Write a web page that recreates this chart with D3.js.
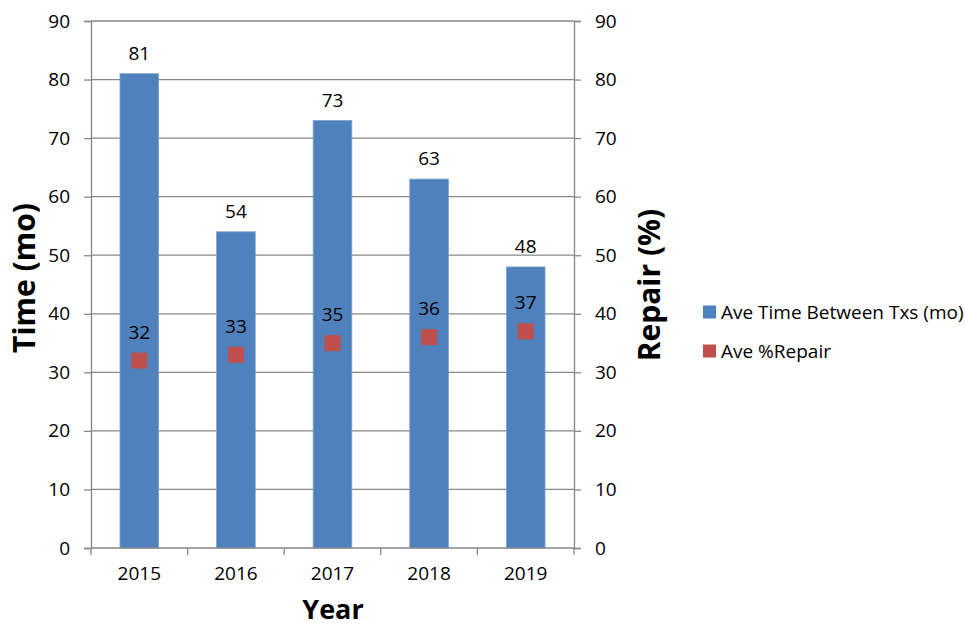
<!DOCTYPE html>
<html>
<head>
<meta charset="utf-8">
<script src="https://cdn.jsdelivr.net/npm/d3@7"></script>
<style>
  html, body { margin: 0; padding: 0; background: #fff; }
  svg text { font-family: "Open Sans", "Noto Sans", sans-serif; fill: #000; }
</style>
</head>
<body>
<svg id="chart" width="965" height="627"></svg>
<script>
const years = ["2015", "2016", "2017", "2018", "2019"];
const aveTime = [81, 54, 73, 63, 48];
const aveRepair = [32, 33, 35, 36, 37];
const yTicks = [0, 10, 20, 30, 40, 50, 60, 70, 80, 90];
const seriesNames = ["Ave Time Between Txs (mo)", "Ave %Repair"];
const colors = ["#4F81BD", "#C0504D"];

const FONT = "'Open Sans', 'Noto Sans', sans-serif";
const FS = 19;
const svg = d3.select("#chart");
const m = { left: 91, right: 574, top: 21, bottom: 548 };
const gridColor = "#878787";

const x = d3.scaleBand().domain(years).range([m.left, m.right]).padding(0);
const yL = d3.scaleLinear().domain([0, 90]).range([m.bottom, m.top]);
const yR = d3.scaleLinear().domain([0, 90]).range([m.bottom, m.top]);

// gridlines
svg.append("g").selectAll("line").data(yTicks.filter(d => d > 0)).join("line")
  .attr("x1", m.left).attr("x2", m.right)
  .attr("y1", d => yL(d)).attr("y2", d => yL(d))
  .attr("stroke", gridColor).attr("stroke-width", 1.3);

// bars
const bw = x.bandwidth() * 0.4;
svg.append("g").selectAll("rect").data(years).join("rect")
  .attr("x", (d) => x(d) + x.bandwidth() / 2 - bw / 2)
  .attr("width", bw)
  .attr("y", (d, i) => yL(aveTime[i]))
  .attr("height", (d, i) => yL(0) - yL(aveTime[i]))
  .attr("fill", colors[0])
  .attr("stroke", "#7BA0CD").attr("stroke-width", 0.8);

// axes
const axL = d3.axisLeft(yL).tickValues(yTicks).tickSize(7).tickPadding(14);
const axR = d3.axisRight(yR).tickValues(yTicks).tickSize(7).tickPadding(14);
const axX = d3.axisBottom(x).tickSize(0).tickPadding(19);

function styleAxis(g) {
  g.select(".domain").attr("stroke", gridColor).attr("stroke-width", 1.3);
  g.selectAll(".tick line").attr("stroke", gridColor).attr("stroke-width", 1.3);
  g.selectAll(".tick text").attr("font-size", FS).attr("fill", "#000")
    .style("font-family", FONT);
}
svg.append("g").attr("transform", `translate(${m.left},0)`).call(axL).call(styleAxis);
svg.append("g").attr("transform", `translate(${m.right},0)`).call(axR).call(styleAxis)
  .selectAll(".tick text").attr("text-anchor", "start");
const gx = svg.append("g").attr("transform", `translate(0,${m.bottom})`).call(axX).call(styleAxis);
gx.select(".domain").attr("d", `M${m.left},0H${m.right}`);
// category boundary ticks
const bounds = years.map(d => x(d)).concat([m.right]);
gx.append("g").selectAll("line").data(bounds).join("line")
  .attr("x1", d => d).attr("x2", d => d).attr("y1", 0).attr("y2", 7)
  .attr("stroke", gridColor).attr("stroke-width", 1.3);

// markers
const ms = 16;
svg.append("g").selectAll("rect").data(years).join("rect")
  .attr("x", d => x(d) + x.bandwidth() / 2 - ms / 2)
  .attr("y", (d, i) => yR(aveRepair[i]) - ms / 2)
  .attr("width", ms).attr("height", ms)
  .attr("fill", colors[1]);

// data labels
svg.append("g").selectAll("text").data(years).join("text")
  .attr("x", d => x(d) + x.bandwidth() / 2)
  .attr("y", (d, i) => yL(aveTime[i]) - 14)
  .attr("text-anchor", "middle").attr("font-size", FS)
  .text((d, i) => aveTime[i]);
svg.append("g").selectAll("text").data(years).join("text")
  .attr("x", d => x(d) + x.bandwidth() / 2)
  .attr("y", (d, i) => yR(aveRepair[i]) - 22)
  .attr("text-anchor", "middle").attr("font-size", FS)
  .text((d, i) => aveRepair[i]);

// axis titles
svg.append("text").attr("transform", "translate(35,278) rotate(-90)")
  .attr("text-anchor", "middle").attr("font-size", 30).attr("font-weight", "bold")
  .text("Time (mo)");
svg.append("text").attr("transform", "translate(660,285) rotate(-90)")
  .attr("text-anchor", "middle").attr("font-size", 30).attr("font-weight", "bold")
  .text("Repair (%)");
svg.append("text").attr("x", 333).attr("y", 619)
  .attr("text-anchor", "middle").attr("font-size", 27).attr("font-weight", "bold")
  .text("Year");

// legend
const lg = svg.append("g").selectAll("g").data(seriesNames).join("g")
  .attr("transform", (d, i) => `translate(703,${312 + i * 39})`);
lg.append("rect").attr("x", 0).attr("y", -6.5).attr("width", 13).attr("height", 13)
  .attr("fill", (d, i) => colors[i]);
lg.append("text").attr("x", 18).attr("y", 6.5).attr("font-size", FS).text(d => d);
</script>
</body>
</html>
